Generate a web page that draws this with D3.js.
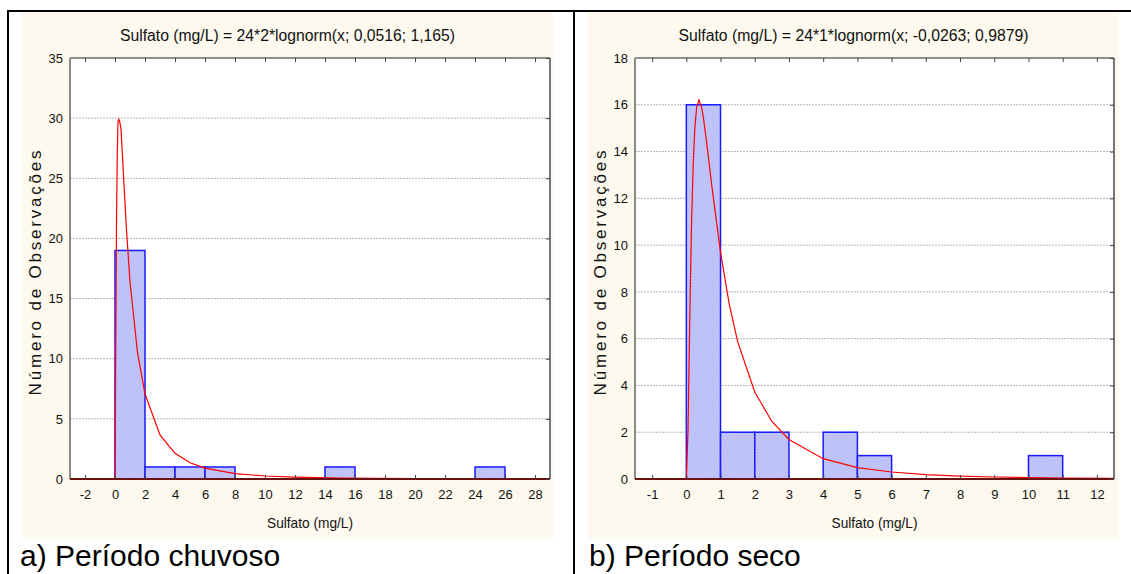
<!DOCTYPE html>
<html>
<head>
<meta charset="utf-8">
<script src="https://cdn.jsdelivr.net/npm/d3@7"></script>
<style>
html,body{margin:0;padding:0;background:#fff;}
svg{display:block;font-family:"Liberation Sans",Arial,sans-serif;}
</style>
</head>
<body>
<svg id="chart" width="1131" height="574"></svg>
<script>
// ---------- data ----------
const chuvosoTitle = "Sulfato (mg/L) = 24*2*lognorm(x; 0,0516; 1,165)";
const chuvosoBinLo = [0, 2, 4, 6, 14, 24];
const chuvosoBinHi = [2, 4, 6, 8, 16, 26];
const chuvosoCounts = [19, 1, 1, 1, 1, 1];
const chuvosoXTicks = [-2,0,2,4,6,8,10,12,14,16,18,20,22,24,26,28];
const chuvosoYTicks = [0,5,10,15,20,25,30,35];
const chuvosoCurveX = [-3, 0, 0.1, 0.15, 0.2, 0.25, 0.3, 0.4, 0.5, 0.75, 1, 1.5, 2, 3, 4, 5, 6, 8, 10, 12, 15, 20, 25, 29];
const chuvosoCurveY = [0, 0, 21.3, 27.0, 29.7, 29.9, 29.8, 29.1, 26.8, 21.0, 16.4, 10.5, 7.06, 3.66, 2.13, 1.35, 0.90, 0.45, 0.25, 0.155, 0.081, 0.034, 0.016, 0.01];

const secoTitle = "Sulfato (mg/L) = 24*1*lognorm(x; -0,0263; 0,9879)";
const secoBinLo = [0, 1, 2, 4, 5, 10];
const secoBinHi = [1, 2, 3, 5, 6, 11];
const secoCounts = [16, 2, 2, 2, 1, 1];
const secoXTicks = [-1,0,1,2,3,4,5,6,7,8,9,10,11,12];
const secoYTicks = [0,2,4,6,8,10,12,14,16,18];
const secoCurveX = [-1.5, 0, 0.05, 0.1, 0.15, 0.2, 0.25, 0.3, 0.37, 0.45, 0.5, 0.6, 0.75, 1, 1.25, 1.5, 2, 2.5, 3, 4, 5, 6, 7, 8, 9, 10, 11, 12.5];
const secoCurveY = [0, 0, 2.11, 6.81, 10.75, 13.42, 15.03, 15.87, 16.21, 15.87, 15.44, 14.32, 12.48, 9.69, 7.51, 5.87, 3.72, 2.46, 1.69, 0.87, 0.49, 0.30, 0.19, 0.125, 0.086, 0.060, 0.043, 0.028];

const xAxisTitle = "Sulfato (mg/L)";
const yAxisTitle = "Número de Observações";
const captions = ["a) Período chuvoso", "b) Período seco"];

// ---------- drawing ----------
const svg = d3.select("#chart");
const defs = svg.append("defs");
const pat = defs.append("pattern").attr("id","hatch").attr("patternUnits","userSpaceOnUse")
  .attr("width",3).attr("height",3);
pat.append("rect").attr("width",3).attr("height",3).attr("fill","#c4c8fa");
pat.append("path").attr("d","M0,3 L3,0").attr("stroke","#acb0f0").attr("stroke-width",0.8);

// table borders
svg.append("line").attr("x1",7).attr("x2",1131).attr("y1",11).attr("y2",11).attr("stroke","#000").attr("stroke-width",2);
svg.append("line").attr("x1",8).attr("x2",8).attr("y1",10).attr("y2",574).attr("stroke","#000").attr("stroke-width",2);
svg.append("line").attr("x1",574).attr("x2",574).attr("y1",10).attr("y2",574).attr("stroke","#000").attr("stroke-width",2);

const panels = [
  {bg:[22,553], plot:[70,550], dom:[-3,29], ymax:35, title:chuvosoTitle, titleW:335, lo:chuvosoBinLo, hi:chuvosoBinHi, counts:chuvosoCounts,
   xt:chuvosoXTicks, yt:chuvosoYTicks, cx:chuvosoCurveX, cy:chuvosoCurveY, ylabX:35, cap:captions[0], capX:20},
  {bg:[588,1119], plot:[635,1114], dom:[-1.5,12.5], ymax:18, title:secoTitle, titleW:350, lo:secoBinLo, hi:secoBinHi, counts:secoCounts,
   xt:secoXTicks, yt:secoYTicks, cx:secoCurveX, cy:secoCurveY, ylabX:600, cap:captions[1], capX:589}
];
const plotTop = 58, plotBottom = 479;
const fmt = d => String(d);

panels.forEach((p,pi) => {
  const g = svg.append("g");
  g.append("rect").attr("x",p.bg[0]).attr("y",12).attr("width",p.bg[1]-p.bg[0]).attr("height",539-12).attr("fill","#fdf9ee");
  const x = d3.scaleLinear().domain(p.dom).range(p.plot);
  const y = d3.scaleLinear().domain([0,p.ymax]).range([plotBottom, plotTop]);
  g.append("rect").attr("x",p.plot[0]).attr("y",plotTop).attr("width",p.plot[1]-p.plot[0]).attr("height",plotBottom-plotTop).attr("fill","#fff");
  g.selectAll(".grid").data(p.yt.filter(v=>v>0 && v<p.ymax)).join("line")
    .attr("x1",p.plot[0]).attr("x2",p.plot[1]).attr("y1",d=>y(d)).attr("y2",d=>y(d))
    .attr("stroke","#b4b4b4").attr("stroke-width",1).attr("stroke-dasharray","2,1");
  g.selectAll(".bar").data(p.counts).join("rect")
    .attr("x",(d,i)=>x(p.lo[i])).attr("width",(d,i)=>x(p.hi[i])-x(p.lo[i]))
    .attr("y",d=>y(d)).attr("height",d=>plotBottom-y(d))
    .attr("fill","url(#hatch)").attr("stroke","#1a1aff").attr("stroke-width",1.5);
  const line = d3.line().x(d=>x(d[0])).y(d=>y(d[1]));
  g.append("path").datum(p.cx.map((v,i)=>[v,p.cy[i]])).attr("d",line)
    .attr("fill","none").attr("stroke","#ff0000").attr("stroke-width",1.2);
  g.append("line").attr("x1",p.plot[0]).attr("x2",p.plot[1]).attr("y1",plotTop).attr("y2",plotTop).attr("stroke","#222").attr("stroke-width",1);
  g.append("line").attr("x1",p.plot[0]).attr("x2",p.plot[0]).attr("y1",plotTop).attr("y2",plotBottom).attr("stroke","#8a8a8a").attr("stroke-width",2);
  g.append("line").attr("x1",p.plot[1]).attr("x2",p.plot[1]).attr("y1",plotTop).attr("y2",plotBottom).attr("stroke","#777").attr("stroke-width",2);
  g.append("line").attr("x1",p.plot[0]).attr("x2",p.plot[1]).attr("y1",plotBottom).attr("y2",plotBottom).attr("stroke","#6a1212").attr("stroke-width",2);
  const xAxis = d3.axisBottom(x).tickValues(p.xt).tickSize(-4).tickPadding(11).tickFormat(fmt);
  const ax = g.append("g").attr("transform",`translate(0,${plotBottom})`).call(xAxis);
  ax.select(".domain").remove();
  ax.selectAll("line").attr("stroke","#444");
  ax.selectAll("text").attr("font-size",13).attr("fill","#111").attr("font-family","'Liberation Sans',Arial,sans-serif");
  const axT = g.append("g").attr("transform",`translate(0,${plotTop})`).call(d3.axisTop(x).tickValues(p.xt).tickSize(-4).tickFormat(""));
  axT.select(".domain").remove();
  axT.selectAll("line").attr("stroke","#444");
  const yAxis = d3.axisLeft(y).tickValues(p.yt).tickSize(0).tickPadding(7).tickFormat(fmt);
  const ay = g.append("g").attr("transform",`translate(${p.plot[0]},0)`).call(yAxis);
  ay.select(".domain").remove();
  ay.selectAll("text").attr("font-size",13).attr("fill","#111").attr("font-family","'Liberation Sans',Arial,sans-serif");
  const ayR = g.append("g").attr("transform",`translate(${p.plot[1]},0)`).call(d3.axisRight(y).tickValues(p.yt).tickSize(-4).tickFormat(""));
  ayR.select(".domain").remove();
  ayR.selectAll("line").attr("stroke","#444");
  g.append("text").attr("x",(p.bg[0]+p.bg[1])/2).attr("y",41).attr("text-anchor","middle")
    .attr("font-size",16).attr("textLength",p.titleW).attr("lengthAdjust","spacingAndGlyphs").attr("fill","#111").text(p.title);
  g.append("text").attr("x",(p.plot[0]+p.plot[1])/2).attr("y",528).attr("text-anchor","middle")
    .attr("font-size",15).attr("textLength",86).attr("lengthAdjust","spacingAndGlyphs").attr("fill","#111").text(xAxisTitle);
  g.append("text").attr("transform",`translate(${p.ylabX},${(plotTop+plotBottom)/2+3}) rotate(-90)`).attr("text-anchor","middle")
    .attr("dy","0.35em").attr("font-size",17).attr("letter-spacing",2.8).attr("fill","#111").text(yAxisTitle);
  g.append("text").attr("x",p.capX).attr("y",566).attr("font-size",30).attr("fill","#000").text(p.cap);
});
</script>
</body>
</html>
